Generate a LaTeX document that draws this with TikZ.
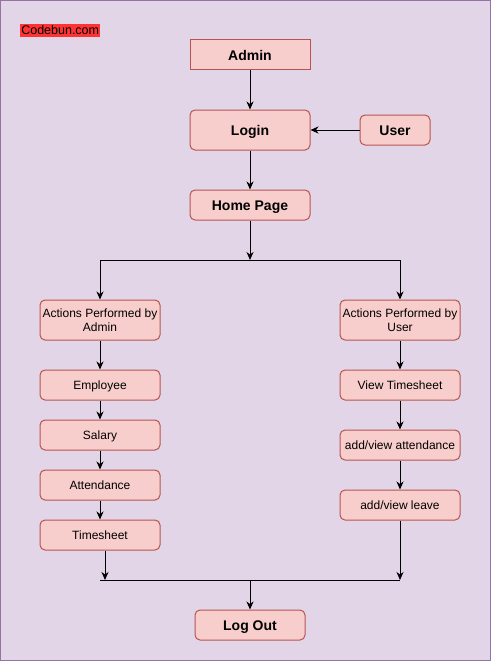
\documentclass[tikz,border=0pt]{standalone}
\usepackage{fontspec}
\setmainfont{Liberation Sans}
\usetikzlibrary{arrows.meta}
\definecolor{bgc}{HTML}{E1D5E7}
\definecolor{bgline}{HTML}{9673A6}
\definecolor{boxfill}{HTML}{F8CECC}
\definecolor{boxline}{HTML}{B85450}
\definecolor{tagred}{HTML}{FF3333}
\begin{document}
\begin{tikzpicture}[x=1pt,y=-1pt,
  box/.style={draw=boxline,fill=boxfill,line width=1pt,minimum width=120pt,minimum height=30pt,inner sep=0pt,rounded corners=5pt,align=center},
  bigbox/.style={box,font=\fontsize{14}{16}\selectfont\bfseries,text height=10pt,text depth=0pt},
  smallbox/.style={box,font=\fontsize{12}{14}\selectfont,text height=8.6pt,text depth=0pt},
  twoline/.style={box,font=\fontsize{12}{14}\selectfont,minimum height=40pt},
  arr/.style={line width=1pt,-{Stealth[length=8pt,width=7pt,inset=2.5pt]}},
  ln/.style={line width=1pt}]
\useasboundingbox (0,0) rectangle (491,661);
\draw[fill=bgc,draw=bgline,line width=1pt] (0.5,0.5) rectangle (490.5,660.5);
\node[fill=tagred,inner sep=0pt,minimum width=80pt,minimum height=13pt,text height=8.6pt,text depth=0pt,font=\fontsize{12.5}{14}\selectfont,anchor=west] (tag) at (20,30.5) {Codebun.com};
\node[bigbox,rounded corners=0pt] (admin) at (250,55) {Admin};
\node[bigbox,minimum height=40pt] (login) at (250,130) {Login};
\node[bigbox,minimum width=70pt] (user) at (395,130) {User};
\node[bigbox] (home) at (250,205) {Home Page};
\node[twoline] (aadmin) at (100,320) {Actions Performed by\\Admin};
\node[twoline] (auser) at (400,320) {Actions Performed by\\User};
\node[smallbox] (emp) at (100,385) {Employee};
\node[smallbox] (sal) at (100,435) {Salary};
\node[smallbox] (att) at (100,485) {Attendance};
\node[smallbox] (ts) at (100,535) {Timesheet};
\node[smallbox] (vts) at (400,385) {View Timesheet};
\node[smallbox] (vatt) at (400,445) {add/view attendance};
\node[smallbox] (vlv) at (400,505) {add/view leave};
\node[bigbox,minimum width=110pt] (logout) at (250,625) {Log Out};
\coordinate (jtop) at (250,260);
\coordinate (jl) at (100,260);
\coordinate (jr) at (400,260);
\coordinate (bl) at (100,580);
\coordinate (br) at (400,580);
\coordinate (bts) at (105,580);
\coordinate (bmid) at (250,580);
\draw[arr] (admin) -- (login);
\draw[arr] (user) -- (login);
\draw[arr] (login) -- (home);
\draw[arr] (home) -- (jtop);
\draw[ln] (jl) -- (jr);
\draw[arr] (jl) -- (aadmin);
\draw[arr] (jr) -- (auser);
\draw[arr] (aadmin) -- (emp);
\draw[arr] (emp) -- (sal);
\draw[arr] (sal) -- (att);
\draw[arr] (att) -- (ts);
\draw[arr] (auser) -- (vts);
\draw[arr] (vts) -- (vatt);
\draw[arr] (vatt) -- (vlv);
\draw[arr] (ts.south -| bts) -- (bts);
\draw[arr] (vlv) -- (br);
\draw[ln] (bl) -- (br);
\draw[arr] (bmid) -- (logout);
\end{tikzpicture}
\end{document}
